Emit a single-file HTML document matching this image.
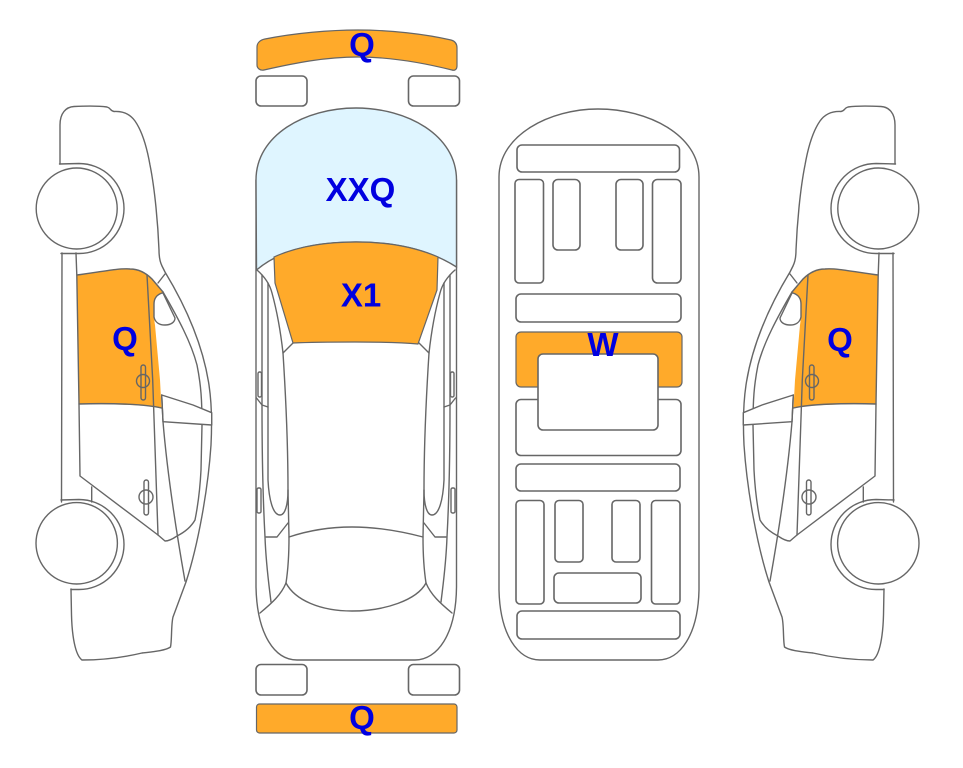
<!DOCTYPE html>
<html>
<head>
<meta charset="utf-8">
<style>
html,body{margin:0;padding:0;background:#fff;}
svg{display:block;}
text{font-family:"Liberation Sans",Arial,sans-serif;font-weight:bold;font-size:33px;fill:#0000e0;text-anchor:middle;}
.l{fill:none;stroke:#666;stroke-width:1.4;stroke-linejoin:round;stroke-linecap:round;}
.w{fill:#fff;stroke:#666;stroke-width:1.6;}
.o{fill:#ffaa2a;stroke:#666;stroke-width:1.2;}
</style>
</head>
<body>
<svg width="963" height="768" viewBox="0 0 963 768" xmlns="http://www.w3.org/2000/svg">
<defs>
<g id="side">
  <!-- orange door window -->
  <path d="M77 275 C100 272 118 268 130 269 C140 269 147 274 152 279 L163 292 L155 298 C153 301 154 320 155 325 L160 380 L161.5 408 C150 405 110 404 79 404 Z" fill="#ffaa2a" stroke="none"/>
  <path class="l" d="M77 275 C100 272 118 268 130 269 C140 269 147 274 152 279 L163 292"/>
  <path class="l" d="M79 404 C110 403 145 404 161.5 408"/>
  <!-- body outline -->
  <path class="l" d="M60 164 L60 125 C60 113 66 107 74 106.5 C85 106 100 106 107 107 C111 108 110 111 114 111.5 C123 111 130 114 135 121 C142 131 147 148 150 165 C155 190 158 225 159 250 C159 258 160 262 162 266 L165 272 C185 305 203 345 209 385 C212 405 212 425 211 445 C208 490 198 545 186 582 L173 617 C171 625 172 640 170.5 647 C165 651 150 652 142 653 C125 657 105 660 82 660 C75 655 72 635 71.5 615 L71 589"/>
  <!-- wheel arches -->
  <path class="l" d="M59.5 164 L79 163.5 A45 45 0 0 1 79 253.5 L61 253.5"/>
  <path class="l" d="M61 500 L79 499.5 A45 45 0 0 1 79 589.5 L71 589.5"/>
  <!-- wheels -->
  <circle class="l" cx="76.7" cy="208.5" r="40.5" style="fill:#fff"/>
  <circle class="l" cx="76.7" cy="543.3" r="40.7" style="fill:#fff"/>
  <!-- sill -->
  <path class="l" d="M62 253 L61.5 502"/>
  <path class="l" d="M76 253 L76.8 275 L79 404 L80 476 L158 535 L165 541 C170 541 174 538 177 536 C185 532 191 527 195 520 C198 505 200 490 201 470 L202 425"/>
  <path class="l" d="M91.7 487 L91.7 502"/>
  <!-- door lines -->
  <path class="l" d="M147 275 L152.7 380 L158 535"/>
  <path class="l" d="M165 274 L158 283"/>
  <path class="l" d="M163 292 C178 318 191 342 197 365 C201 385 202 400 202 425"/>
  <path class="l" d="M161.7 395 L193 405 L211.7 412.7 L211.7 425 L163 421.7 Z" style="fill:#fff"/>
  <path class="l" d="M161.7 395 L163 421.7 C167 470 176 530 185 581"/>
  <!-- mirror -->
  <path class="l" d="M162 293 C156 295 154 299 154 304 L154 317 C155 322 159 325 165 325 C171 325 175 322 175 318 L163 293 Z" style="fill:#fff"/>
  <!-- handles -->
  <circle class="l" cx="143" cy="381" r="6.5"/>
  <rect class="l" x="141" y="365" width="4.5" height="35" rx="2.2"/>
  <circle class="l" cx="146" cy="497" r="7"/>
  <rect class="l" x="144" y="480" width="4.5" height="35" rx="2.2"/>
</g>
<g id="topSide">
  <path class="l" d="M257 270 C265 277 270 285 272 293 C278 315 281 335 283 353 L293 343"/>
  <path class="l" d="M262 275 L262 405 C262 450 263 500 265 537 C266 565 269 585 271 602"/>
  <path class="l" d="M268 283 L268 407 L268 480 C269 500 273 515 280 515 C285 515 288 505 288 490"/>
  <path class="l" d="M283 353 C286 400 288 440 288 490 L289 537 C289 555 288 570 286 583"/>
  <path class="l" d="M286 583 C281 595 272 603 260 613"/>
  <path class="l" d="M266 537 L277 537 L288 523"/>
  <path class="l" d="M256.5 398 L262 405 L268 407"/>
  <rect class="l" x="258" y="372" width="3.5" height="25" rx="1.5"/>
  <rect class="l" x="257" y="488" width="4" height="25" rx="1.5"/>
</g>
</defs>

<rect width="963" height="768" fill="#fff"/>

<!-- left side car -->
<use href="#side"/>
<!-- right side car -->
<use href="#side" transform="translate(955 0) scale(-1 1)"/>

<!-- top view -->
<path class="o" d="M257 47 C257 43 260 40 265 39 C295 33 330 30 358 30 C390 30 425 34 451 40 C455 41 457 44 457 48 L457 66 C457 69 455 71 452 70 C420 62 390 57 358 57 C325 57 295 63 264 70 C260 71 257 68 257 65 Z"/>
<rect class="w" x="256" y="76" width="51" height="30" rx="5"/>
<rect class="w" x="408.5" y="76" width="51" height="30" rx="5"/>
<rect class="w" x="256" y="664.5" width="51" height="30.5" rx="5"/>
<rect class="w" x="408.5" y="664.5" width="51" height="30.5" rx="5"/>
<rect class="o" x="256.5" y="704" width="200.5" height="29" rx="3"/>

<path class="l" d="M256 180 L256 587 C257 635 275 660 297 660 L415 660 C437 660 456 635 456.5 587 L456.5 180"/>
<path d="M256 180 C256 135 305 108 356 108 C407 108 456.5 135 456.5 180 L456.5 267 C430 250 395 242 356 242 C315 242 280 250 256.5 270 Z" fill="#dff5ff" stroke="#666" stroke-width="1.4"/>
<path class="o" d="M274 257 C298 246 325 242 356 242 C388 242 415 247 438 257 L437 290 L418 344 C395 342 375 342 355 342 C335 342 315 342 293 343 L275 283 Z"/>

<use href="#topSide"/>
<use href="#topSide" transform="translate(712 0) scale(-1 1)"/>
<path class="l" d="M289 537 C310 530 330 527 352 527 C375 527 400 531 423 537"/>
<path class="l" d="M286 583 C295 600 320 611 352 611 C385 611 417 600 426 583"/>

<!-- underside -->
<path class="l" d="M499 177 C499 135 550 109 598 109 C648 109 699 135 699 177 L699 590 C698 635 680 660 658 660 L540 660 C518 660 500 635 499 590 Z"/>
<rect class="w" x="517" y="145" width="162.5" height="27" rx="5"/>
<rect class="w" x="515" y="179.5" width="28.5" height="103.5" rx="4"/>
<rect class="w" x="553" y="179.5" width="27" height="70.5" rx="5"/>
<rect class="w" x="616" y="179.5" width="27" height="70.5" rx="5"/>
<rect class="w" x="652.5" y="179.5" width="28.5" height="103.5" rx="5"/>
<rect class="w" x="516" y="294" width="165" height="28" rx="5"/>
<rect class="o" x="516" y="332" width="166" height="55" rx="5"/>
<rect class="w" x="516" y="399.5" width="165" height="56" rx="5"/>
<rect class="w" x="538" y="354" width="120" height="76" rx="5"/>
<rect class="w" x="516" y="464" width="164" height="27" rx="5"/>
<rect class="w" x="516" y="500.5" width="28" height="103.5" rx="4"/>
<rect class="w" x="555" y="500.5" width="28" height="61.5" rx="4"/>
<rect class="w" x="612" y="500.5" width="28" height="61.5" rx="4"/>
<rect class="w" x="651.5" y="500.5" width="28.5" height="103.5" rx="4"/>
<rect class="w" x="554" y="573" width="87" height="30" rx="5"/>
<rect class="w" x="517" y="611" width="163" height="28" rx="5"/>

<!-- labels -->
<text x="362" y="56">Q</text>
<text x="360.500" y="201">XXQ</text>
<text x="361" y="306.500">X1</text>
<text x="603" y="356">W</text>
<text x="125" y="350">Q</text>
<text x="840" y="351">Q</text>
<text x="362" y="729">Q</text>
</svg>
</body>
</html>
